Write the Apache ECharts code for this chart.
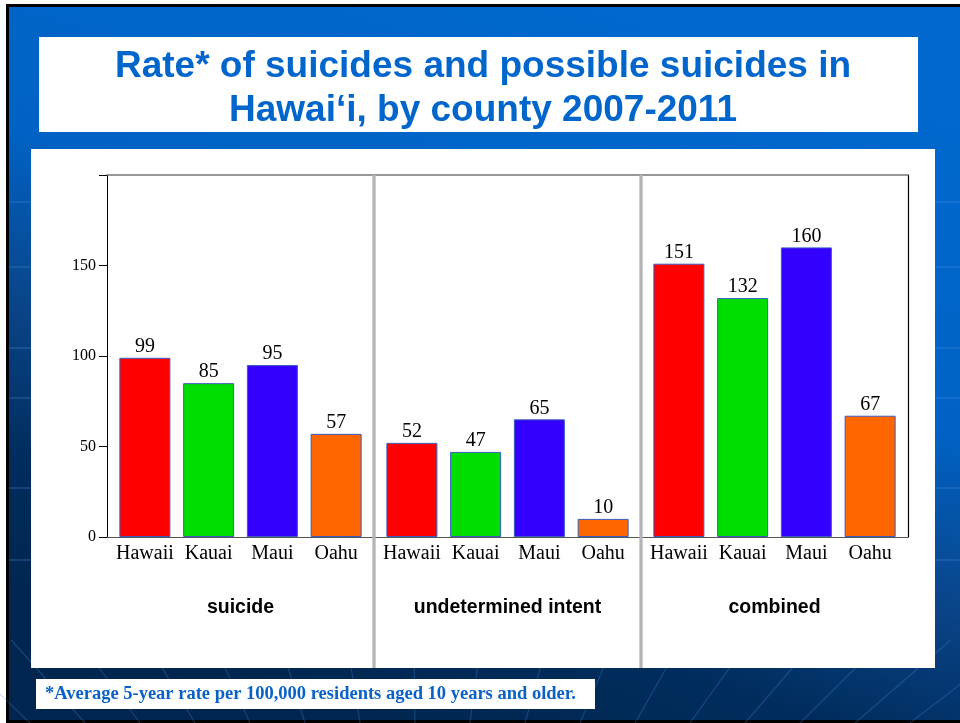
<!DOCTYPE html>
<html>
<head>
<meta charset="utf-8">
<script src="https://cdn.jsdelivr.net/npm/echarts@6/dist/echarts.min.js"></script>
<style>
html,body{margin:0;padding:0;background:#fff;}
#c{width:960px;height:723px;}
</style>
</head>
<body>
<div id="c"></div>
<script>
// ---- data ----
const counties = ['Hawaii', 'Kauai', 'Maui', 'Oahu'];
const panelNames = ['suicide', 'undetermined intent', 'combined'];
const suicideRate = [99, 85, 95, 57];
const undeterminedRate = [52, 47, 65, 10];
const combinedRate = [151, 132, 160, 67];
const yMin = 0, yMax = 200, yInterval = 50;
const titleText = 'Rate* of suicides and possible suicides in\nHawai\u2018i, by county 2007-2011';
const footnoteText = '*Average 5-year rate per 100,000 residents aged 10 years and older.';

// ---- style / layout ----
const countyColors = ['#FF0000', '#00DD00', '#3300FF', '#FF6600'];
const plot = { left: 107, top: 175, width: 801, height: 362 };
const panelW = plot.width / 3;
const innerPad = 6;
const serif = '"Liberation Serif", "Times New Roman", serif';
const sans = '"Liberation Sans", Arial, sans-serif';

const chart = echarts.init(document.getElementById('c'), null, { renderer: 'canvas' });

const seriesData = [suicideRate, undeterminedRate, combinedRate];

const grids = [{ left: plot.left, top: plot.top, width: plot.width, height: plot.height }];
const xAxes = [
  { gridIndex: 0, type: 'value', min: 0, max: 1, position: 'bottom',
    axisLine: { show: true, onZero: false, lineStyle: { color: '#555', width: 1.2 } },
    axisTick: { show: false }, axisLabel: { show: false }, splitLine: { show: false } },
  { gridIndex: 0, type: 'value', min: 0, max: 1, position: 'top',
    axisLine: { show: true, onZero: false, lineStyle: { color: '#777', width: 1.5 } },
    axisTick: { show: false }, axisLabel: { show: false }, splitLine: { show: false } }
];
const yAxes = [
  { gridIndex: 0, type: 'value', min: yMin, max: yMax, interval: yInterval, position: 'left',
    axisLine: { show: true, onZero: false, lineStyle: { color: '#000', width: 1 } },
    axisTick: { show: true, inside: false, length: 8, lineStyle: { color: '#000' } },
    axisLabel: { show: true, margin: 11, color: '#000', fontFamily: serif, fontSize: 16,
      formatter: v => (v === yMax ? '' : String(v)) },
    splitLine: { show: false } },
  { gridIndex: 0, type: 'value', min: yMin, max: yMax, position: 'right',
    axisLine: { show: true, onZero: false, lineStyle: { color: '#000', width: 1.2 } },
    axisTick: { show: false }, axisLabel: { show: false }, splitLine: { show: false } }
];
const series = [];
const frameAxes = 2;

for (let p = 0; p < 3; p++) {
  const gi = p + 1;
  grids.push({ left: plot.left + p * panelW + innerPad, top: plot.top,
    width: panelW - 2 * innerPad, height: plot.height });
  xAxes.push({ gridIndex: gi, type: 'category', data: counties,
    axisLine: { show: false }, axisTick: { show: false },
    axisLabel: { color: '#000', fontFamily: serif, fontSize: 20, margin: 7, interval: 0 },
    name: panelNames[p], nameLocation: 'middle', nameGap: 61,
    nameTextStyle: { color: '#000', fontFamily: sans, fontWeight: 'bold', fontSize: 19.5 } });
  yAxes.push({ gridIndex: gi, type: 'value', min: yMin, max: yMax, show: false });
  series.push({
    type: 'bar', xAxisIndex: frameAxes + p, yAxisIndex: frameAxes + p, data: seriesData[p],
    colorBy: 'data', barWidth: '80%',
    itemStyle: { borderColor: '#3a5cc0', borderWidth: 1 },
    label: { show: true, position: 'top', distance: 1, color: '#000',
      fontFamily: serif, fontSize: 20 }
  });
}

// background decoration
const deco = [];
deco.push({ type: 'rect', shape: { x: 0, y: 0, width: 960, height: 723 }, style: { fill: '#fff' }, z: -30 });
deco.push({ type: 'rect', shape: { x: 6, y: 4, width: 960, height: 723 }, style: { fill: '#000' }, z: -29 });
deco.push({ type: 'rect', shape: { x: 9, y: 7, width: 960, height: 713 },
  style: { fill: new echarts.graphic.LinearGradient(0.62, 0, 0.38, 1, [
    { offset: 0, color: '#0068CE' }, { offset: 0.4, color: '#0062C4' },
    { offset: 0.62, color: '#0A4488' }, { offset: 0.82, color: '#002C5C' },
    { offset: 1, color: '#00264F' }]) }, z: -28 });
[202, 267, 348, 398, 488, 560].forEach(y => deco.push({ type: 'line', shape: { x1: 9, y1: y, x2: 960, y2: y },
  style: { stroke: 'rgba(90,150,230,0.3)', lineWidth: 1.5 }, z: -27 }));
for (let xb = 30; xb < 980; xb += 55) {
  const cx = 420, cy = 1100;
  const yTop = 640;
  const t = (cy - yTop) / (cy - 723);
  deco.push({ type: 'line', shape: { x1: xb, y1: 723, x2: cx + (xb - cx) * t, y2: yTop },
    style: { stroke: 'rgba(70,140,230,0.3)', lineWidth: 1.2 }, z: -27 });
}
deco.push({ type: 'rect', shape: { x: 39, y: 37, width: 879, height: 95 }, style: { fill: '#fff' }, z: -20 });
deco.push({ type: 'rect', shape: { x: 31, y: 149, width: 904, height: 519 }, style: { fill: '#fff' }, z: -20 });
deco.push({ type: 'rect', shape: { x: 36, y: 679, width: 559, height: 30 }, style: { fill: '#fff' }, z: -20 });
for (let p = 1; p < 3; p++) {
  const x = plot.left + p * panelW;
  deco.push({ type: 'line', shape: { x1: x, y1: plot.top, x2: x, y2: 668 },
    style: { stroke: '#b5b5b5', lineWidth: 3.3 }, z: 50 });
}
deco.push({ type: 'text', left: 45, top: 685, z: 60,
  style: { text: footnoteText, fill: '#0A62C8', font: 'bold 18.5px ' + serif } });

chart.setOption({
  animation: false,
  color: countyColors,
  title: { text: titleText, left: 478, top: 40, textAlign: 'center',
    textStyle: { color: '#0066CC', fontFamily: sans, fontWeight: 'bold', fontSize: 37, lineHeight: 44 } },
  graphic: { elements: deco },
  grid: grids,
  xAxis: xAxes,
  yAxis: yAxes,
  series: series
});
</script>
</body>
</html>
